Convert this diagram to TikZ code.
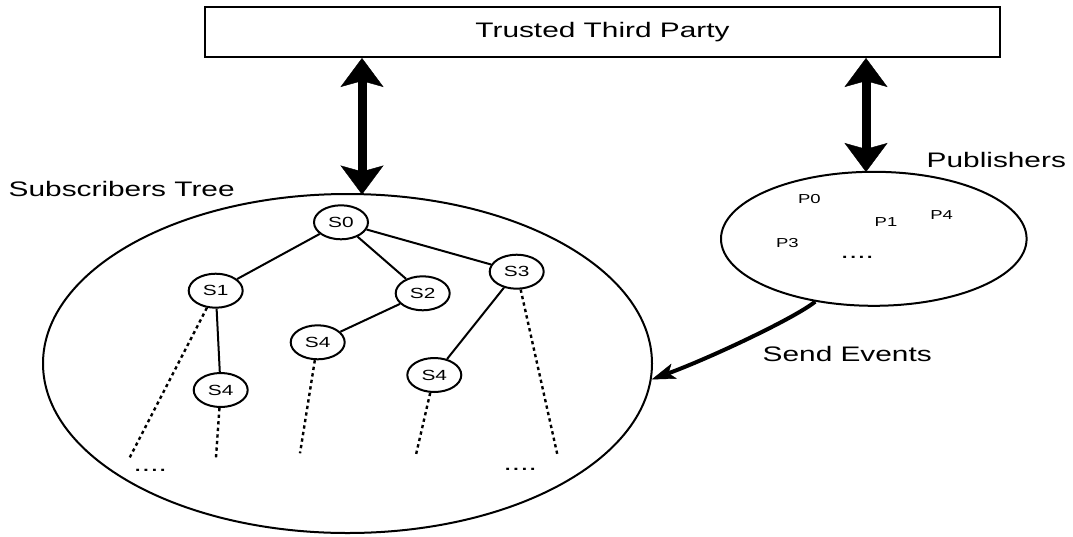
\documentclass[tikz,border=0pt]{standalone}
\usepackage{fontspec}
\setmainfont{Liberation Sans}
\usepackage{graphicx}
\usetikzlibrary{shapes.geometric,arrows.meta}
\newcommand{\hs}[2]{\scalebox{1.42}[1]{\fontsize{#1}{#1}\selectfont #2}}
\begin{document}
\begin{tikzpicture}[x=1pt,y=-1pt,
  lbl/.style={inner sep=0pt,anchor=base west},
  snode/.style={draw,ellipse,line width=2pt,minimum width=54pt,minimum height=34pt,inner sep=0pt},
  bigell/.style={draw,ellipse,line width=2pt,inner sep=0pt},
  tedge/.style={line width=2pt},
  dedge/.style={line width=2.4pt,dash pattern=on 3.3pt off 3.3pt},
  bigarrow/.style={line width=9pt,{Stealth[length=29pt,width=43pt,inset=6pt,line width=0.4pt]}-{Stealth[length=29pt,width=43pt,inset=6pt,line width=0.4pt]}},
  sendarrow/.style={line width=4pt,-{Stealth[length=24pt,width=16pt,inset=6pt,line width=0.4pt]}}
]
\useasboundingbox (0,0) rectangle (1073,536);
% top box
\node[draw,line width=2pt,minimum width=795pt,minimum height=50pt,inner sep=0pt] (box) at (602.5,32) {\raisebox{4pt}{\hs{21}{Trusted Third Party}}};
% big ellipses
\node[bigell,minimum width=609pt,minimum height=339pt] (tree) at (347.5,363.5) {};
\node[bigell,minimum width=305.6pt,minimum height=134pt] (pub) at (873.8,238.8) {};
% labels
\node[lbl] (stlabel) at (8.5,196) {\hs{21}{Subscribers Tree}};
\node[lbl] (publabel) at (926.5,167.7) {\hs{21}{Publishers}};
\node[lbl] (sendlabel) at (762.5,361) {\hs{21}{Send Events}};
% publishers content
\node[inner sep=0pt] (p0) at (809.3,199.3) {\hs{13}{P0}};
\node[inner sep=0pt] (p1) at (886,221.7) {\hs{13}{P1}};
\node[inner sep=0pt] (p4) at (941.7,215) {\hs{13}{P4}};
\node[inner sep=0pt] (p3) at (787.3,243.3) {\hs{13}{P3}};
\node[lbl] (pdots) at (840.5,258.5) {\hs{21}{....}};
% tree nodes
\node[snode] (s0) at (341,222.3) {\hs{14.7}{S0}};
\node[snode] (s1) at (215.7,290.7) {\hs{14.7}{S1}};
\node[snode] (s2) at (422.7,293.3) {\hs{14.7}{S2}};
\node[snode] (s3) at (516.7,271.7) {\hs{14.7}{S3}};
\node[snode] (s4a) at (220.7,390) {\hs{14.7}{S4}};
\node[snode] (s4b) at (317.7,342.3) {\hs{14.7}{S4}};
\node[snode] (s4c) at (434.3,375) {\hs{14.7}{S4}};
% tree edges
\draw[tedge] (s0) -- (s1);
\draw[tedge] (s0) -- (s2);
\draw[tedge] (s0) -- (s3);
\draw[tedge] (s1) -- (s4a);
\draw[tedge] (s2) -- (s4b);
\draw[tedge] (s3) -- (s4c);
% dotted continuations
\coordinate (e1) at (129.3,458.3);
\coordinate (e2) at (216,457.3);
\coordinate (e3) at (300,453.3);
\coordinate (e4) at (415.7,456);
\coordinate (e5) at (557.3,454.3);
\draw[dedge] (s1) -- (e1);
\draw[dedge] (s4a) -- (e2);
\draw[dedge] (s4b) -- (e3);
\draw[dedge] (s4c) -- (e4);
\draw[dedge] (s3) -- (e5);
\node[lbl] (ldots) at (133.5,471.5) {\hs{21}{....}};
\node[lbl] (rdots) at (503.5,470.5) {\hs{21}{....}};
% arrows
\coordinate (la) at (362,194.5);
\coordinate (ra) at (866,172);
\draw[bigarrow] (box.south -| la) -- (la);
\draw[bigarrow] (box.south -| ra) -- (ra);
\draw[sendarrow] (pub.227) .. controls (795,318) and (710,358) .. (tree.-3);
\end{tikzpicture}
\end{document}
